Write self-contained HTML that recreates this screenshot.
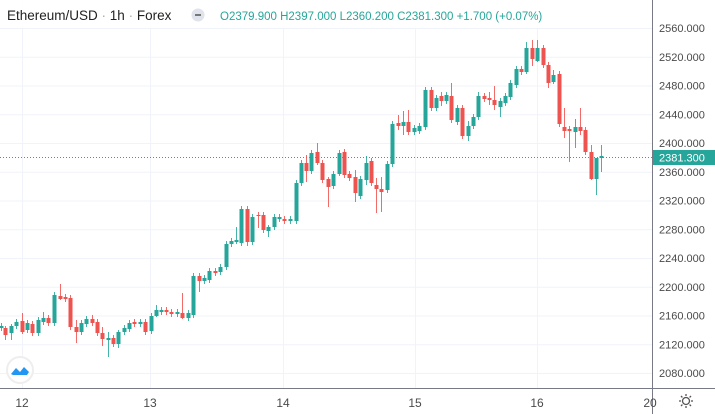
<!DOCTYPE html>
<html><head><meta charset="utf-8"><style>
body{margin:0;background:#fff;width:715px;height:414px;overflow:hidden;font-family:"Liberation Sans",sans-serif}
</style></head><body>
<svg id="s" width="715" height="414" xmlns="http://www.w3.org/2000/svg" style="position:absolute;left:0;top:0">
<g id="grid" stroke="#f0f3fa" stroke-width="1"></g>
<g id="c"></g>
<line x1="0" y1="157.5" x2="652" y2="157.5" stroke="#26a69a" stroke-dasharray="1,2" stroke-width="1"/>
<line x1="652.5" y1="0" x2="652.5" y2="414" stroke="#787b86" stroke-width="1"/>
<line x1="0" y1="388.5" x2="715" y2="388.5" stroke="#787b86" stroke-width="1"/>
<g id="ax" font-size="11" fill="#4a4a4a"></g>
<rect x="653" y="150" width="62" height="15" fill="#26a69a"/>
<text x="659" y="161.5" font-size="11" fill="#fff">2381.300</text>
<g font-size="12" fill="#4a4a4a" text-anchor="middle">
<text x="22" y="407">12</text><text x="150" y="407">13</text><text x="283" y="407">14</text><text x="415" y="407">15</text><text x="537" y="407">16</text><text x="650" y="407">20</text>
</g>
<circle cx="20" cy="370" r="13" fill="#fff" stroke="#eee" stroke-width="2"/>
<path d="M11 374 l5 -6 l4 4 l4 -5 l5 5 l-2 3 h-14z" fill="#2196f3"/>
<g transform="translate(686,401)" fill="none" stroke="#555" stroke-width="1.3"><circle r="3.5"/><path d="M0 -7V-5M0 5V7M-7 0H-5M5 0H7M-5 -5L-3.6 -3.6M3.6 3.6L5 5M-5 5L-3.6 3.6M3.6 -3.6L5 -5"/></g>
<rect x="0" y="0" width="652" height="28" fill="#fff" opacity="0.9"/>
<text x="7" y="20" font-size="13.5" fill="#222">Ethereum/USD <tspan fill="#aaa">·</tspan> 1h <tspan fill="#aaa">·</tspan> Forex</text>
<circle cx="198" cy="15" r="6.5" fill="#e0e3eb"/><rect x="195" y="14" width="6" height="2" fill="#777"/>
<text x="220" y="20" font-size="11.5" fill="#26a69a">O2379.900 H2397.000 L2360.200 C2381.300 +1.700 (+0.07%)</text>
</svg>
<script>
var G='#26a69a',R='#ef5350';
var d=[
[1,326,328,G],[5,328,335,R,326,340],[11,326,333,G,324,340],[16,322,326,G],[22,321,332,R,313,334],[27,323,330,G],[32,324,333,R],[38,320,333,G],[43,318,322,G,312,325],[48,318,323,R],[54,295,323,G],[60,296,299,R,284,300],[65,297,299,R],[70,298,327,R],[76,327,332,R,320,343],[81,323,332,G],[86,319,324,G],[92,319,323,R,315,326],[97,322,333,R],[102,333,339,R,327,346],[108,338,340,G,332,357],[113,338,344,R],[118,332,344,G,330,348],[124,328,332,G],[129,323,329,G],[134,322,324,R],[140,322,324,G],[145,322,332,R],[151,316,331,G],[156,310,316,G,305,317],
[161,310,312,G],[166,310,312,R],[171,312,314,R],[177,312,314,G],[182,313,318,R,293,319],[188,313,318,G],[193,276,315,G],[199,276,281,R,273,292],[204,278,281,G],[209,271,280,G],[215,271,273,R],[220,267,272,G],[226,244,267,G],[231,241,244,G],[236,240,242,G,227,244],[241,209,243,G],[247,209,242,R,206,246],[252,217,242,G],[258,215,216,R,212,228],[263,215,230,R],[268,227,231,G,225,237],[274,217,227,G],[279,217,219,G],[284,219,221,R],[290,219,221,G],
[296,183,221,G],[301,163,183,G],[306,163,171,R,155,182],[311,153,171,G],[317,152,163,R,143,165],[322,163,180,R],[328,179,187,R,177,207],[333,174,186,G],[339,153,174,G,150,176],[344,152,175,R],[349,174,178,R],[355,177,193,R,170,202],[360,179,196,G],[366,163,180,G,156,185],[371,161,183,R],[376,185,189,R,178,213],[381,189,192,R,177,212],[387,164,190,G],[392,124,164,G],[398,123,126,R,115,130],[403,122,126,G,111,135],[408,122,132,R,110,135],[414,128,132,G],[419,126,131,G],
[425,90,127,G],[431,90,108,R],[436,98,108,G],[441,96,101,R,92,106],[446,95,101,G],[451,96,120,R,83,123],[457,108,122,G],[462,108,136,R],[468,126,136,G,121,141],[473,117,126,G],[478,96,117,G,92,120],[484,96,99,R],[489,98,100,R,92,105],[494,100,105,R,86,110],[500,101,107,G,98,117],[505,96,103,G],[510,83,97,G],[516,69,85,G],[521,69,72,R],[526,48,72,G,42,74],[532,48,59,R,40,66],[537,48,61,G,40,62],[543,48,65,R],[548,65,83,R,62,88],[553,75,82,G,70,84],[559,74,124,R],[564,127,131,R,108,138],[569,129,131,R,126,162],[575,127,132,G,119,148],[580,127,131,R,108,135],[585,130,152,R],[591,152,179,R,145,180],[596,158,179,G,158,195],[601,156,158,G,145,172]
];
var h='';
d.forEach(function(c){var x=c[0],t=c[1],b=c[2],col=c[3],hi=c[4]||t-3,lo=c[5]||b+3;if(b-t<1)b=t+1;
h+='<line x1="'+(x+.5)+'" x2="'+(x+.5)+'" y1="'+hi+'" y2="'+lo+'" stroke="'+col+'" stroke-width="1" opacity="0.85"/>';
h+='<rect x="'+(x-1.5)+'" y="'+t+'" width="4" height="'+(b-t)+'" fill="'+col+'"/>';});
document.getElementById('c').innerHTML=h;
var a='',g='';
for(var p=2080;p<=2560;p+=40){var y=373-(p-2080)*0.71875;g+='<line x1="0" x2="652" y1="'+(y+.5)+'" y2="'+(y+.5)+'"/>';if(Math.abs(y-157)>8)a+='<text x="659" y="'+(y+4)+'">'+p+'.000</text>';}
[22,150,283,415,537].forEach(function(x){g+='<line x1="'+(x+.5)+'" x2="'+(x+.5)+'" y1="0" y2="388"/>';});
document.getElementById('ax').innerHTML=a;document.getElementById('grid').innerHTML=g;
</script>
</body></html>
